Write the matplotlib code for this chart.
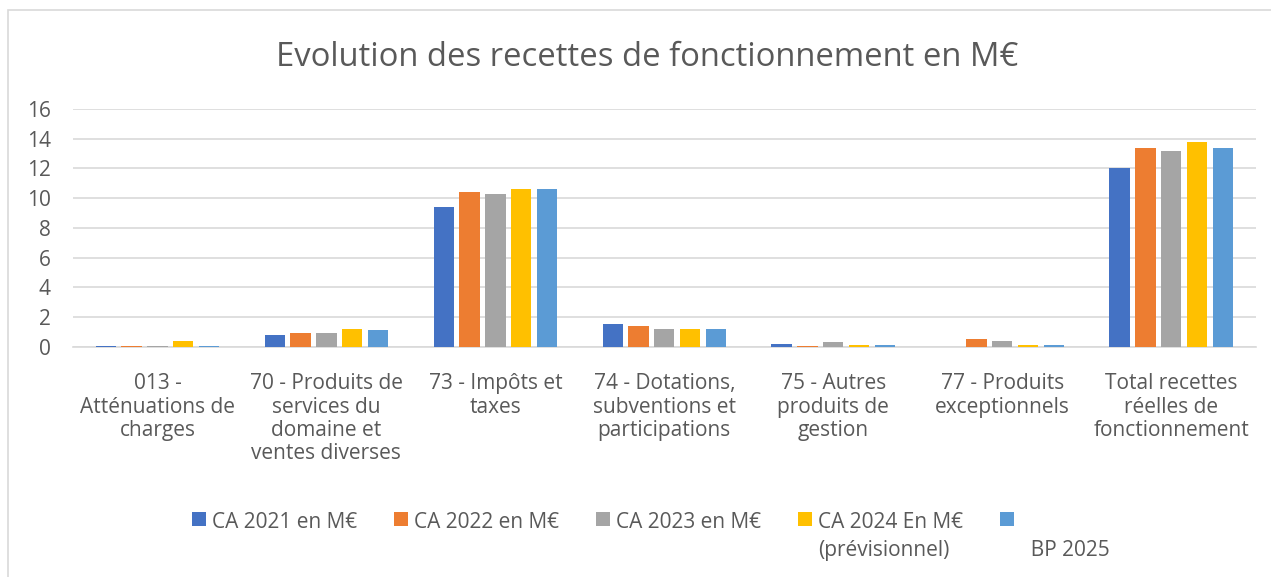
#!/usr/bin/env python3

import numpy as np
import matplotlib
matplotlib.use('Agg')
import matplotlib.pyplot as plt
from matplotlib.patches import Rectangle

plt.rcParams['font.family'] = ['Open Sans', 'DejaVu Sans']

categories = [
    '013 -\nAtténuations de\ncharges',
    '70 - Produits de\nservices du\ndomaine et\nventes diverses',
    '73 - Impôts et\ntaxes',
    '74 - Dotations,\nsubventions et\nparticipations',
    '75 - Autres\nproduits de\ngestion',
    '77 - Produits\nexceptionnels',
    'Total recettes\nréelles de\nfonctionnement',
]

ca_2021 = [0.05, 0.8, 9.4, 1.5, 0.2, 0.0, 12.0]
ca_2022 = [0.05, 0.9, 10.4, 1.4, 0.05, 0.5, 13.4]
ca_2023 = [0.05, 0.9, 10.3, 1.2, 0.3, 0.4, 13.2]
ca_2024 = [0.4, 1.2, 10.6, 1.2, 0.15, 0.15, 13.8]
bp_2025 = [0.05, 1.1, 10.6, 1.2, 0.15, 0.15, 13.4]

series_labels = ['CA 2021 en M€', 'CA 2022 en M€', 'CA 2023 en M€',
                 'CA 2024 En M€\n(prévisionnel)', '\n  BP 2025']
colors = ['#4472C4', '#ED7D31', '#A5A5A5', '#FFC000', '#5B9BD5']
series = [ca_2021, ca_2022, ca_2023, ca_2024, bp_2025]

text_col = '#595959'
grid_col = '#D9D9D9'
fs = 15

fig = plt.figure(figsize=(12.71, 5.77), dpi=100)
ax = fig.add_axes([0.0574, 0.399, 0.9306, 0.412])

x = np.arange(len(categories))
step = 0.153
width = 0.12
for i, (vals, lab, col) in enumerate(zip(series, series_labels, colors)):
    ax.bar(x + (i - 2) * step, vals, width=width, color=col, label=lab,
           zorder=3)

ax.set_xlim(-0.5, len(categories) - 0.5)
ax.set_ylim(0, 16)
ax.set_yticks(range(0, 17, 2))
ax.set_xticks(x)
ax.set_xticklabels(categories, fontsize=fs, color=text_col,
                   linespacing=1.15)
ax.tick_params(axis='y', length=0, pad=16, labelsize=fs,
               labelcolor=text_col)
ax.tick_params(axis='x', length=0, pad=19)

ax.grid(True, axis='y', color=grid_col, linewidth=1.2, zorder=0)
for s in ['left', 'right', 'top']:
    ax.spines[s].set_visible(False)
ax.spines['bottom'].set_color(grid_col)
ax.spines['bottom'].set_linewidth(1.2)

fig.text(0.509, 0.9, 'Evolution des recettes de fonctionnement en M€',
         ha='center', va='center', fontsize=23.6, color=text_col)

leg = ax.legend(loc='upper center', bbox_to_anchor=(0.512, 0.145),
                bbox_transform=fig.transFigure, ncol=5, frameon=False,
                fontsize=fs, handlelength=0.67, handleheight=0.67,
                handletextpad=0.29, columnspacing=1.78)
for t in leg.get_texts():
    t.set_color(text_col)
    t.set_linespacing(1.45)
# put the swatches on the first text line, like Excel does
for col_box in leg._legend_handle_box.get_children():
    col_box.align = 'top'
    for item in col_box.get_children():
        item.align = 'top'
leg._legend_handle_box.align = 'top'

# chart border (only left and top visible in the crop)
fig.patches.append(Rectangle((8 / 1271, -0.1), 1.2, 1.1 - 10 / 577,
                             transform=fig.transFigure, fill=False,
                             edgecolor=grid_col, linewidth=1.2))

fig.savefig('out.png', dpi=100)
